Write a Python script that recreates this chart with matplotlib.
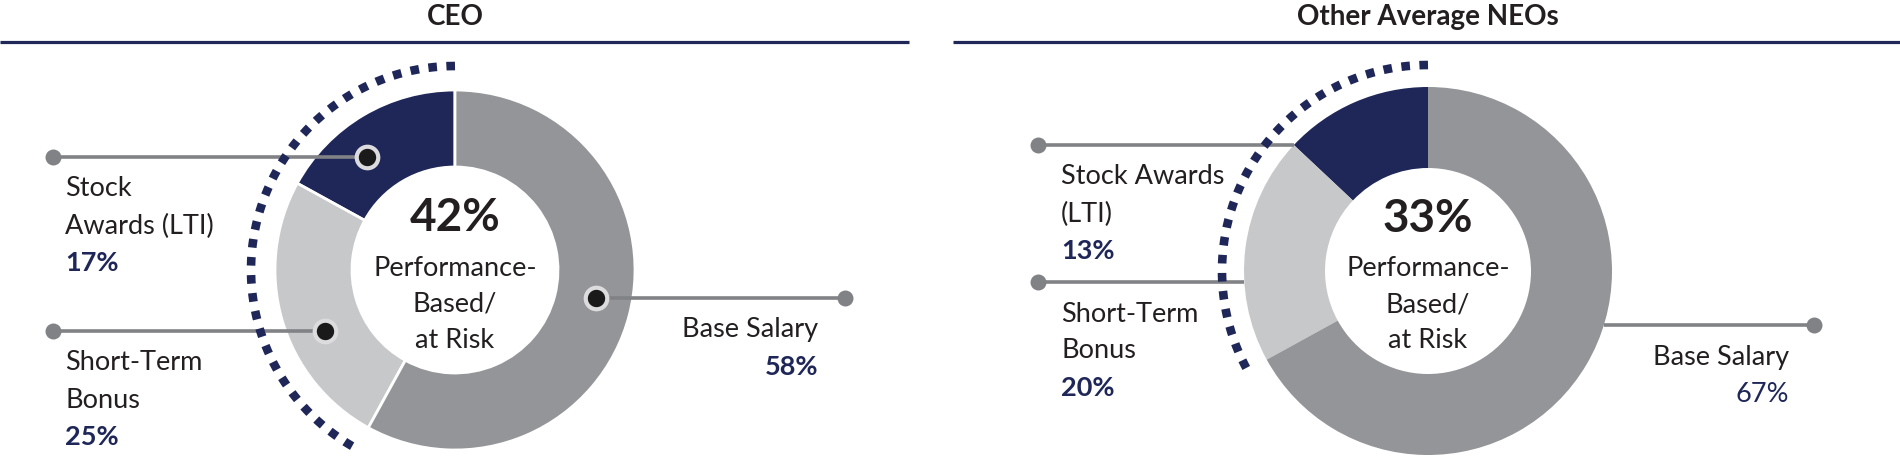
import numpy as np
import matplotlib.pyplot as plt

# Data
groups = ['CEO', 'Other Average NEOs']
components = ['Stock Awards (LTI)', 'Short-Term Bonus', 'Base Salary']
ceo_pct = [17, 25, 58]
neo_pct = [13, 20, 67]
perf_pct = [42, 33]          # performance-based / at risk share
ceo_labels = [['Stock', 'Awards (LTI)'], ['Short-Term', 'Bonus'], ['Base Salary']]
neo_labels = [['Stock Awards', '(LTI)'], ['Short-Term', 'Bonus'], ['Base Salary']]
center_lines = ['Performance-', 'Based/', 'at Risk']

# Colours
NAVY = '#1f2759'
DARK_GRAY = '#939598'
LIGHT_GRAY = '#c7c8ca'
LINE_GRAY = '#808285'
RING = '#dcdcde'
TEXT = '#231f20'

plt.rcParams['font.family'] = ['Lato', 'DejaVu Sans']

W, H = 1900, 471
fig = plt.figure(figsize=(W / 100, H / 100), dpi=100)
ax = fig.add_axes([0, 0, 1, 1])

# Panel layout in pixel units (y down)
panels = [
    dict(values=ceo_pct, perf=perf_pct[0], labels=ceo_labels, title=groups[0],
         cx=455, cy=270, R=180, r_in=103, arc_r=204, rule=(0, 909),
         rows=[157, 331, 298], left_x=53, right_x=845, text_x=65, base_x=818,
         markers=True, seam=2.0, base_bold=True),
    dict(values=neo_pct, perf=perf_pct[1], labels=neo_labels, title=groups[1],
         cx=1428, cy=271, R=184, r_in=103, arc_r=206, rule=(953, 1900),
         rows=[145, 282, 325], left_x=1038, right_x=1814, text_x=1061, base_x=1789,
         markers=False, seam=0, base_bold=False),
]


def circle_x(p, y, r, side):
    dy = y - p['cy']
    return p['cx'] + side * np.sqrt(max(r ** 2 - dy ** 2, 0))


for p in panels:
    cx, cy, R = p['cx'], p['cy'], p['R']

    # title + rule
    ax.text(cx, 17, p['title'], ha='center', va='center', fontsize=20,
            fontweight='bold', color=TEXT)
    ax.plot(p['rule'], [42, 42], color=NAVY, lw=2.3, solid_capstyle='butt')

    # donut (y axis is inverted, so go clockwise from -90 in data angles)
    ax.pie(p['values'], colors=[NAVY, LIGHT_GRAY, DARK_GRAY], startangle=-90,
           counterclock=False, radius=R, center=(cx, cy), frame=True,
           wedgeprops=dict(width=R - p['r_in'], edgecolor='white',
                           linewidth=p['seam']))

    # leader lines
    r_mark = (R + p['r_in']) / 2 + 2
    for i, y in enumerate(p['rows']):
        is_base = i == 2
        side = 1 if is_base else -1
        end_x = p['right_x'] if is_base else p['left_x']
        if p['markers']:
            x0 = circle_x(p, y, r_mark, side)
        else:
            x0 = circle_x(p, y, R, side)
        ax.plot([x0, end_x], [y, y], color=LINE_GRAY, lw=2.6, zorder=3,
                solid_capstyle='butt')
        ax.plot(end_x, y, 'o', ms=11.5, color=LINE_GRAY, mew=0, zorder=4)
        if p['markers']:
            ax.plot(x0, y, 'o', ms=15.5, mfc='#1a1a1a', mec=RING, mew=3,
                    zorder=6)

    # dotted arc over the performance-based part
    t = np.radians(np.linspace(-90, -90 - 3.6 * p['perf'], 300))
    ax.plot(cx + p['arc_r'] * np.cos(t), cy + p['arc_r'] * np.sin(t),
            color=NAVY, lw=6.2, linestyle=(0, (1, 1.1)), dash_capstyle='butt',
            zorder=5)

    # side labels
    step = 37
    for i, lines in enumerate(p['labels']):
        y0 = p['rows'][i] + 32
        is_base = i == 2
        x = p['base_x'] if is_base else p['text_x']
        ha = 'right' if is_base else 'left'
        for k, line in enumerate(lines):
            ax.text(x, y0 + k * step, line, ha=ha, va='center', fontsize=19.5,
                    color=TEXT)
        bold = p['base_bold'] if is_base else True
        ax.text(x, y0 + len(lines) * step, f"{p['values'][i]}%", ha=ha,
                va='center', fontsize=19.5, color=NAVY,
                fontweight='bold' if bold else 'normal')

    # centre text
    ax.text(cx, cy - 52, f"{p['perf']}%", ha='center', va='center',
            fontsize=33, fontweight='bold', color=TEXT)
    for k, line in enumerate(center_lines):
        ax.text(cx, cy - 2 + k * 36, line, ha='center', va='center',
                fontsize=19.5, color=TEXT)

ax.set_xlim(0, W)
ax.set_ylim(H, 0)
ax.set_aspect('auto')
ax.axis('off')

fig.savefig('out.png', dpi=100, facecolor='white')
